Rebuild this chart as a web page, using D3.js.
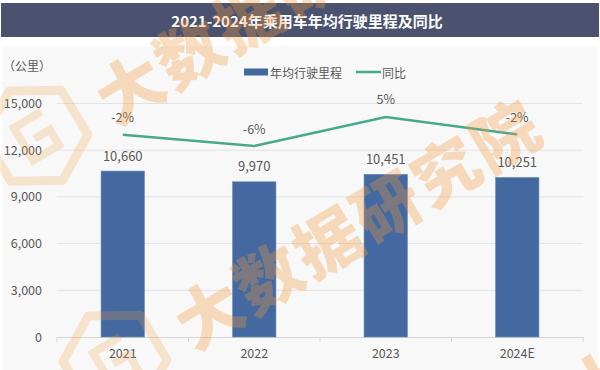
<!DOCTYPE html>
<html>
<head>
<meta charset="utf-8">
<script src="https://cdn.jsdelivr.net/npm/d3@7"></script>
<style>
  html, body { margin: 0; padding: 0; background: #fff; }
  svg { display: block; font-family: "Noto Sans CJK SC", "Noto Sans", sans-serif; }
</style>
</head>
<body>
<div id="chart"></div>
<script>
// data
const years = ["2021", "2022", "2023", "2024E"];
const mileage = [10660, 9970, 10451, 10251];
const yoy = [-0.02, -0.064, 0.048, -0.019];
const yTicks = [0, 3000, 6000, 9000, 12000, 15000];

const title = "2021-2024年乘用车年均行驶里程及同比";
const unitLabel = "（公里）";
const seriesNames = ["年均行驶里程", "同比"];

const width = 600, height = 370;
const barColor = "#4469a0", lineColor = "#45a98a", textColor = "#595959";

const locale = d3.formatLocale({ decimal: ".", thousands: ",", grouping: [3], currency: ["", ""], minus: "-" });
const fmtNum = locale.format(",");
const fmtPct = locale.format(".0%");

const svg = d3.select("#chart").append("svg")
    .attr("width", width)
    .attr("height", height);

// background + title bar
svg.append("rect").attr("x", 2).attr("y", 46).attr("width", 596).attr("height", 324).attr("fill", "#f8f8f8");
svg.append("rect").attr("x", 1).attr("y", 3).attr("width", 598).attr("height", 34).attr("fill", "#4a526f");
svg.append("text")
    .attr("x", 307).attr("y", 20)
    .attr("text-anchor", "middle").attr("dominant-baseline", "central")
    .attr("fill", "#fff").attr("font-size", 15).attr("font-weight", "bold")
    .text(title);

// scales
const x = d3.scaleBand().domain(years).range([57, 583]).paddingInner(0.67).paddingOuter(0.335);
const y = d3.scaleLinear().domain([0, 15000]).range([337, 103.5]);
const y2 = d3.scaleLinear().domain([-0.8, 0.1]).range([337, 103.5]);

// grid
const g = svg.append("g");
g.selectAll(".grid").data(yTicks.slice(1)).enter().append("line")
    .attr("x1", 57).attr("x2", 583)
    .attr("y1", d => y(d)).attr("y2", d => y(d))
    .attr("stroke", "#e2e2e2").attr("stroke-width", 1);

// y axis (labels only)
const yAxis = g.append("g").attr("transform", "translate(45,0)")
    .call(d3.axisLeft(y).tickValues(yTicks).tickFormat(fmtNum).tickSize(0).tickPadding(3));
yAxis.select(".domain").remove();
yAxis.selectAll("text").attr("fill", textColor).attr("font-size", 12.5)
    .attr("font-family", "'Noto Sans CJK SC', sans-serif");

svg.append("text").attr("x", 3).attr("y", 65)
    .attr("dominant-baseline", "central")
    .attr("fill", textColor).attr("font-size", 12)
    .text(unitLabel);

// x axis
const xAxis = g.append("g").attr("transform", `translate(0,${y(0)})`)
    .call(d3.axisBottom(x).tickSize(0).tickPadding(12));
xAxis.select(".domain").attr("stroke", "#d6d6d6");
xAxis.selectAll("text").attr("fill", textColor).attr("font-size", 12.5)
    .attr("font-family", "'Noto Sans CJK SC', sans-serif");
const bounds = d3.range(years.length + 1).map(i => x.range()[0] + i * x.step());
g.selectAll(".xtick").data(bounds).enter().append("line")
    .attr("x1", d => d).attr("x2", d => d)
    .attr("y1", y(0)).attr("y2", y(0) + 5)
    .attr("stroke", "#d6d6d6");

// bars
const bars = g.selectAll(".bar").data(mileage).enter().append("g");
bars.append("rect")
    .attr("class", "bar")
    .attr("x", (d, i) => x(years[i]))
    .attr("width", x.bandwidth())
    .attr("y", d => y(d))
    .attr("height", d => y(0) - y(d))
    .attr("fill", barColor)
    .attr("stroke", "#6a8cbf").attr("stroke-width", 0.6);
bars.append("text")
    .attr("x", (d, i) => x(years[i]) + x.bandwidth() / 2)
    .attr("y", d => y(d) - 16)
    .attr("text-anchor", "middle").attr("dominant-baseline", "central")
    .attr("fill", textColor).attr("font-size", 13)
    .text(d => fmtNum(d));

// line
const cx = i => x(years[i]) + x.bandwidth() / 2;
const line = d3.line().x((d, i) => cx(i)).y(d => y2(d));
g.append("path").datum(yoy)
    .attr("d", line)
    .attr("fill", "none").attr("stroke", lineColor).attr("stroke-width", 2.5);
g.selectAll(".pct").data(yoy).enter().append("text")
    .attr("x", (d, i) => cx(i))
    .attr("y", d => y2(d) - 18)
    .attr("text-anchor", "middle").attr("dominant-baseline", "central")
    .attr("fill", textColor).attr("font-size", 12.5)
    .text(d => fmtPct(d));

// legend
const lg = svg.append("g").attr("transform", "translate(244,72)");
lg.append("rect").attr("x", 0).attr("y", -3.5).attr("width", 24).attr("height", 7).attr("fill", barColor);
lg.append("text").attr("x", 26).attr("y", 0).attr("dominant-baseline", "central")
    .attr("fill", textColor).attr("font-size", 12).text(seriesNames[0]);
lg.append("line").attr("x1", 112).attr("x2", 137).attr("y1", 0).attr("y2", 0)
    .attr("stroke", lineColor).attr("stroke-width", 2.5);
lg.append("text").attr("x", 138).attr("y", 0).attr("dominant-baseline", "central")
    .attr("fill", textColor).attr("font-size", 12).text(seriesNames[1]);

// watermark (tiled, diagonal)
const marks = [[128, 85], [207, 310], [600, 380]];
const hex = d3.range(6).map(k => {
    const a = Math.PI / 6 + k * Math.PI / 3;
    return [-105 + 52 * Math.cos(a), -4 + 52 * Math.sin(a)];
});
const wm = svg.append("g").attr("pointer-events", "none");
marks.forEach(([mx, my]) => {
    const m = wm.append("g").attr("transform", `translate(${mx},${my}) rotate(-31)`);
    m.append("path").attr("d", "M" + hex.join("L") + "Z")
        .attr("fill", "none").attr("stroke", "#f39a3d").attr("stroke-width", 9)
        .attr("stroke-linejoin", "round").attr("opacity", 0.22);
    m.append("path").attr("d", "M-88,-22 H-120 V16 H-90 V-2 H-108")
        .attr("fill", "none").attr("stroke", "#f39a3d").attr("stroke-width", 8)
        .attr("opacity", 0.22);
    m.append("text").attr("x", -33).attr("y", 0)
        .attr("dominant-baseline", "central")
        .attr("fill", "#f39a3d").attr("font-size", 66).attr("font-weight", 900)
        .attr("letter-spacing", 3).attr("opacity", 0.32)
        .text("大数据研究院");
});
</script>
</body>
</html>
